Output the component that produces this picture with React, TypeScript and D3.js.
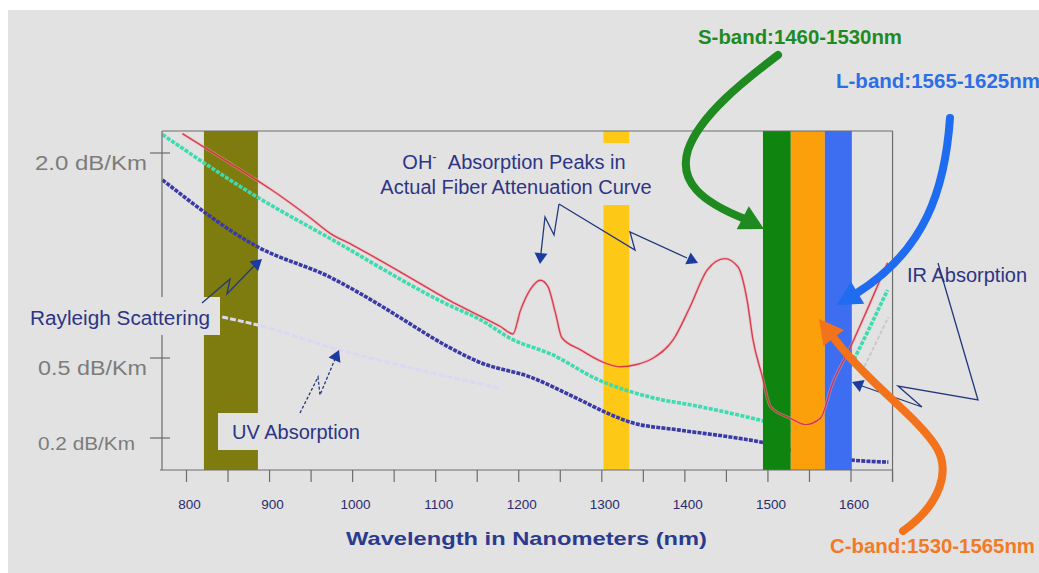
import React from 'react';
import * as d3 from 'd3';

const W = 1039;
const H = 573;

// Measured attenuation of a real fiber: wavelength (nm) / loss (dB/km)
const fiberNm = [795, 850, 886, 900, 950, 973, 1000, 1050, 1100, 1117, 1153, 1178, 1193, 1202, 1214, 1226, 1235, 1244, 1252, 1274, 1302, 1322, 1342, 1362, 1386, 1406, 1427, 1448, 1464, 1475, 1482, 1493, 1503, 1527, 1545, 1563, 1578, 1599, 1619, 1644];
const fiberDb = [2.2, 1.91, 1.73, 1.66, 1.4, 1.28, 1.19, 1.02, 0.86, 0.81, 0.72, 0.66, 0.62, 0.75, 0.88, 0.94, 0.9, 0.74, 0.6, 0.54, 0.48, 0.46, 0.47, 0.5, 0.59, 0.77, 1.01, 1.09, 1.03, 0.81, 0.59, 0.42, 0.3, 0.26, 0.24, 0.26, 0.39, 0.55, 0.75, 1.06];

// Intrinsic loss (scattering plus absorption tails)
const intrinsicNm = [771, 886, 973, 1117, 1153, 1193, 1238, 1298, 1358, 1418, 1491, 1545, 1575, 1599, 1644];
const intrinsicDb = [2.19, 1.58, 1.24, 0.78, 0.7, 0.59, 0.52, 0.4, 0.335, 0.3, 0.254, 0.217, 0.306, 0.459, 0.876];

// Rayleigh scattering
const rayleighNm = [771, 886, 973, 1037, 1057, 1117, 1153, 1214, 1274, 1306, 1334, 1394, 1454, 1491, 1539, 1599, 1645];
const rayleighDb = [1.74, 1.175, 0.96, 0.77, 0.71, 0.55, 0.48, 0.415, 0.324, 0.278, 0.248, 0.223, 0.203, 0.189, 0.162, 0.143, 0.138];

// UV absorption tail
const uvNm = [843, 886, 985, 1081, 1177];
const uvDb = [0.713, 0.668, 0.538, 0.445, 0.37];

// IR absorption tail
const irNm = [1613, 1645];
const irDb = [0.4365, 0.713];

// Classic transmission windows (nm)
const windowFrom = [821, 1302];
const windowTo = [886, 1333];

// Amplifier bands and their stated ranges
const bandNames = ['S-band', 'C-band', 'L-band'];
const bandFrom = [1460, 1530, 1565];
const bandTo = [1530, 1565, 1625];
// Column drawn for each band along the wavelength axis
const bandColFrom = [1494, 1527.5, 1568.5];
const bandColTo = [1527.5, 1568.5, 1601];

const yTicks = [2.0, 0.5, 0.2];
const xTickLabels = [800, 900, 1000, 1100, 1200, 1300, 1400, 1500, 1600];

const FONT = "'Liberation Sans', Arial, Helvetica, sans-serif";
const NAVY = '#2d3584';
const BG = '#e2e2e2';
const windowColors = ['#7f7c0f', '#fdc816'];
const bandColors = ['#0f850f', '#fb9f0a', '#3d6ef2'];
const bandTextColors = ['#1f8a1f', '#f27a26', '#2c6ee6'];

type P = [number, number];

function head(tip: P, from: P, len: number, half: number): string {
  const dx = tip[0] - from[0];
  const dy = tip[1] - from[1];
  const L = Math.hypot(dx, dy);
  const ux = dx / L;
  const uy = dy / L;
  const bx = tip[0] - ux * len;
  const by = tip[1] - uy * len;
  return `M${tip[0]},${tip[1]}L${bx - uy * half},${by + ux * half}L${bx + uy * half},${by - ux * half}Z`;
}

function poly(pts: P[]): string {
  return 'M' + pts.map((p) => p.join(',')).join('L');
}

export default function App() {
  const x = d3.scaleLinear().domain([800, 1600]).range([186.5, 851]);
  const y = d3.scalePow().exponent(0.45).domain([0.2, 2.0]).range([438, 153]);
  const top = 131;
  const bottom = 470;
  const left = x(770.5);
  const right = x(1650);

  const zip = (a: number[], b: number[]): P[] => a.map((v, i) => [v, b[i]] as P);
  const line = d3
    .line<P>()
    .x((d) => x(d[0]))
    .y((d) => y(d[1]))
    .curve(d3.curveMonotoneX);

  const xTicks = d3.range(800, 1651, 50);

  // small navy call-out arrows
  const callouts: { pts: P[]; dashed?: boolean }[] = [
    { pts: [[559, 204], [554, 235], [545, 217], [541, 253]] },
    { pts: [[559, 204], [635, 250], [630, 232], [687, 258]] },
    { pts: [[202, 303], [230, 279], [227, 294], [254, 266]] },
    { pts: [[300, 413], [318, 377], [320, 395], [335, 359]], dashed: true },
    { pts: [[938, 263], [978, 400], [898, 386], [922, 407], [862, 386]] },
  ];
  const calloutTips: P[] = [[540, 264], [698, 263], [262, 259], [339, 350], [852, 382]];

  // thick curved pointers to the amplifier bands
  const bigArrows = [
    { d: 'M778,55 C745,80 700,115 688,150 C678,182 702,202 745,219', tip: [764, 229] as P, from: [745, 219] as P, color: bandTextColors[0] },
    { d: 'M903,531 C940,505 952,470 935,445 C915,415 870,385 833,337', tip: [819, 319] as P, from: [833, 337] as P, color: '#f2731c' },
    { d: 'M950,118 C945,190 925,250 857,293', tip: [837, 305] as P, from: [857, 293] as P, color: '#1f6cf0' },
  ];

  const labelBoxes = [
    { x: 376, y: 143, w: 280, h: 62 },
    { x: 22, y: 297, w: 198, h: 38 },
    { x: 218, y: 413, w: 148, h: 37 },
  ];

  const yLabelWidth = [112, 109, 97];
  const bandLabelPos = [
    { x: 698, y: 44, w: 204 },
    { x: 830, y: 553, w: 205 },
    { x: 836, y: 88, w: 204 },
  ];

  return (
    <svg
      width={W}
      height={H}
      style={{ position: 'absolute', left: 0, top: 0, display: 'block' }}
      fontFamily={FONT}
    >
      <rect x={0} y={0} width={W} height={H} fill="#ffffff" />
      <rect x={8} y={10} width={W - 8} height={H - 10} fill={BG} />

      {/* transmission windows */}
      {windowFrom.map((f, i) => (
        <rect key={'w' + i} x={x(f)} y={top} width={x(windowTo[i]) - x(f)} height={bottom - top} fill={windowColors[i]} />
      ))}

      {/* absorption tails */}
      <path d={line(zip(uvNm, uvDb)) || ''} fill="none" stroke="#ddd8f2" strokeWidth={3} strokeDasharray="6 2" />
      <path d={line(zip(irNm, irDb)) || ''} fill="none" stroke="#c8c8c8" strokeWidth={2} strokeDasharray="4 2" />

      {/* intrinsic loss and Rayleigh scattering */}
      <path d={line(zip(intrinsicNm, intrinsicDb)) || ''} fill="none" stroke="#3ddbae" strokeWidth={3.6} strokeDasharray="4 1.4" />
      <path d={line(zip(rayleighNm, rayleighDb)) || ''} fill="none" stroke="#3a3aa6" strokeWidth={3.6} strokeDasharray="4 1.2" />

      {/* amplifier band columns */}
      {bandColFrom.map((f, i) => (
        <rect key={'b' + i} x={x(f)} y={top} width={x(bandColTo[i]) - x(f)} height={bottom - top} fill={bandColors[i]} />
      ))}

      {/* measured fiber attenuation */}
      <path d={line(zip(fiberNm, fiberDb)) || ''} fill="none" stroke="#f3a5ad" strokeWidth={3} opacity={0.5} />
      <path d={line(zip(fiberNm, fiberDb)) || ''} fill="none" stroke="#d42638" strokeWidth={1.4} opacity={0.85} />

      {/* frame and axes */}
      <g stroke="#6c6c6c" strokeWidth={1.2} fill="none">
        <line x1={left} y1={top} x2={right} y2={top} />
        <line x1={left} y1={top} x2={left} y2={bottom} />
        <line x1={right} y1={top} x2={right} y2={bottom + 12} />
        <line x1={left - 2} y1={bottom} x2={right} y2={bottom} />
        {xTicks.map((t) => (
          <line key={'xt' + t} x1={x(t)} y1={bottom} x2={x(t)} y2={bottom + 12} />
        ))}
        {yTicks.map((t) => (
          <line key={'yt' + t} x1={left - 12} y1={y(t)} x2={left + 8} y2={y(t)} />
        ))}
      </g>

      {/* label backgrounds */}
      {labelBoxes.map((b, i) => (
        <rect key={'lb' + i} x={b.x} y={b.y} width={b.w} height={b.h} fill={BG} />
      ))}

      {/* y tick labels */}
      {yTicks.map((t, i) => (
        <text
          key={'yl' + t}
          x={i === 0 ? 35 : 38}
          y={y(t) + (i === 2 ? 12 : 17)}
          fontSize={i === 2 ? 18 : 20}
          fill="#7c7c7c"
          textLength={yLabelWidth[i]}
          lengthAdjust="spacingAndGlyphs"
        >
          {t.toFixed(1)} dB/Km
        </text>
      ))}

      {/* x tick labels */}
      {xTickLabels.map((t) => (
        <text key={'xl' + t} x={x(t)} dx={3} y={509} fontSize={13.5} fill="#2a2c6c" textAnchor="middle">
          {t}
        </text>
      ))}

      <text x={346} y={545} fontSize={19} fontWeight="bold" fill="#2b3a8e" textLength={361} lengthAdjust="spacingAndGlyphs">
        Wavelength in Nanometers (nm)
      </text>

      {/* annotations */}
      <text x={514} y={169} fontSize={20} fill={NAVY} textAnchor="middle">
        OH<tspan dy={-8} fontSize={13}>-</tspan>
        <tspan dy={8}>{'\u00a0\u00a0Absorption Peaks in'}</tspan>
      </text>
      <text x={516} y={194} fontSize={20} fill={NAVY} textAnchor="middle">
        Actual Fiber Attenuation Curve
      </text>
      <text x={30} y={325} fontSize={20} fill={NAVY} textLength={180} lengthAdjust="spacingAndGlyphs">
        Rayleigh Scattering
      </text>
      <text x={232} y={439} fontSize={20} fill={NAVY}>
        UV Absorption
      </text>
      <text x={907} y={282} fontSize={20} fill={NAVY}>
        IR Absorption
      </text>

      {callouts.map((c, i) => (
        <g key={'co' + i}>
          <path d={poly(c.pts)} fill="none" stroke="#23387c" strokeWidth={1.3} strokeDasharray={c.dashed ? '3 2' : undefined} />
          <path d={head(calloutTips[i], c.pts[c.pts.length - 1], 11, 6.5)} fill="#1c3aa0" />
        </g>
      ))}

      {/* band labels */}
      {bandNames.map((n, i) => (
        <text
          key={'bl' + n}
          x={bandLabelPos[i].x}
          y={bandLabelPos[i].y}
          fontSize={20}
          fontWeight="bold"
          fill={bandTextColors[i]}
          textLength={bandLabelPos[i].w}
          lengthAdjust="spacingAndGlyphs"
        >
          {`${n}:${bandFrom[i]}-${bandTo[i]}nm`}
        </text>
      ))}

      {bigArrows.map((a, i) => (
        <g key={'ba' + i}>
          <path d={a.d} fill="none" stroke={a.color} strokeWidth={8} strokeLinecap="round" />
          <path d={head(a.tip, a.from, 24, 13)} fill={a.color} />
        </g>
      ))}
    </svg>
  );
}
